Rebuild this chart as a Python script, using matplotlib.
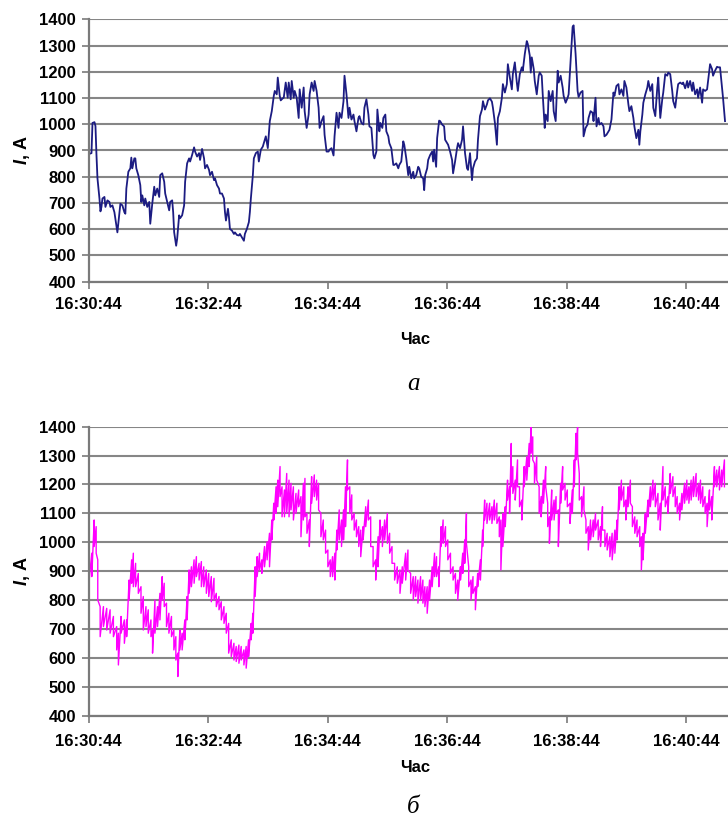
import matplotlib
matplotlib.use("Agg")
import matplotlib.pyplot as plt
from datetime import datetime, timedelta

plt.rcParams['font.family'] = ['Liberation Sans', 'DejaVu Sans']
plt.rcParams['mathtext.fontset'] = 'custom'
plt.rcParams['mathtext.it'] = 'Liberation Sans:bold:italic'
plt.rcParams['mathtext.rm'] = 'Liberation Sans:bold'

# ---- data (seconds after 16:30:44, current in A) ----
start_clock = "16:30:44"
tick_seconds = [0, 120, 240, 360, 480, 600]
y_ticks = [400, 500, 600, 700, 800, 900, 1000, 1100, 1200, 1300, 1400]

# (a) measured current
top_t = [0, 3, 4, 6, 7, 8, 9, 11, 12, 13,
         14, 16, 17, 19, 21, 22, 24, 26, 27, 29,
         31, 32, 34, 36, 37, 38, 40, 42, 43, 44,
         46, 47, 48, 50, 52, 53, 54, 56, 57, 59,
         61, 62, 64, 66, 67, 69, 71, 72, 74, 76,
         77, 79, 81, 82, 84, 85, 86, 88, 89, 91,
         92, 94, 96, 97, 99, 101, 102, 104, 106, 107,
         109, 111, 112, 114, 116, 117, 119, 121, 122, 124,
         126, 127, 129, 131, 132, 134, 136, 137, 138, 140,
         141, 142, 144, 146, 147, 149, 151, 152, 154, 156,
         157, 159, 161, 162, 163, 165, 166, 168, 170, 171,
         173, 175, 176, 178, 180, 181, 182, 184, 186, 187,
         189, 190, 192, 193, 195, 196, 198, 200, 201, 203,
         204, 206, 207, 209, 211, 212, 214, 216, 217, 219,
         221, 222, 224, 226, 227, 229, 231, 232, 234, 236,
         237, 239, 241, 242, 244, 246, 247, 249, 251, 252,
         254, 256, 257, 259, 261, 262, 264, 266, 267, 269,
         271, 272, 274, 276, 277, 279, 281, 282, 284, 286,
         287, 289, 290, 292, 293, 295, 296, 298, 299, 301,
         302, 304, 306, 307, 309, 311, 312, 314,
         316, 317, 319, 321, 322, 324, 326, 327, 329, 331,
         332, 334, 336, 337, 338, 340, 341, 343, 345, 346,
         347, 349, 350, 352, 353, 355, 357, 358, 360, 361,
         363, 365, 366, 368, 370, 371, 373, 375, 376, 378,
         380, 381, 383, 385, 386, 388, 390, 391, 393, 395,
         396, 398, 400, 401, 403, 405, 406, 408, 410, 411,
         413, 415, 416, 418, 420, 421, 423, 425, 426, 428,
         430, 431, 433, 435, 436, 438, 440, 441, 443, 444,
         445, 447, 448, 450, 452, 453, 455, 456, 458, 459,
         461, 462, 464, 466, 467, 469, 471, 472, 474, 476,
         477, 479, 481, 482, 484, 486, 487, 489, 491, 492,
         494, 496, 497, 499, 501, 502, 504, 506, 507, 509,
         510, 512, 513, 515, 517, 518, 520, 522, 523, 525,
         527, 528, 530, 532, 533, 535, 537, 538, 540, 542,
         543, 545, 547, 548, 550, 552, 553, 554, 556, 557,
         559, 561, 562, 564, 566, 567, 569, 571, 572, 574,
         576, 577, 579, 581, 582, 584, 586, 587, 589, 591,
         592, 594, 596, 597, 599, 601, 602, 604, 606, 607,
         609, 611, 612, 614, 616, 617, 619, 621, 622, 624,
         626, 627, 629, 631, 632, 634, 636, 637, 639]
top_i = [886, 890, 1005, 1008, 993, 883, 794, 717, 668, 685,
         717, 723, 685, 710, 704, 685, 691, 665, 640, 588,
         659, 697, 691, 665, 659, 755, 819, 832, 873, 832,
         870, 870, 832, 806, 768, 704, 729, 691, 717, 685,
         704, 621, 697, 762, 729, 755, 723, 806, 813, 781,
         736, 704, 672, 704, 710, 665, 588, 537, 563, 653,
         642, 653, 691, 781, 851, 870, 858, 883, 912, 896,
         877, 890, 864, 906, 870, 832, 845, 826, 806, 819,
         787, 794, 768, 755, 736, 736, 717, 665, 633, 678,
         646, 601, 595, 582, 588, 578, 576, 582, 569, 556,
         582, 601, 627, 665, 717, 806, 870, 890, 896, 858,
         903, 915, 928, 954, 909, 960, 1012, 1050, 1108, 1127,
         1114, 1178, 1108, 1091, 1099, 1101, 1159, 1101, 1159, 1095,
         1165, 1101, 1127, 1101, 1024, 1133, 1063, 1140, 1050, 986,
         1037, 1114, 1159, 1127, 1165, 1127, 1063, 986, 1012, 1031,
         960, 896, 896, 903, 909, 881, 954, 1044, 986, 1044,
         1024, 1088, 1185, 1114, 1024, 1063, 1018, 1037, 1012, 973,
         1024, 1031, 1005, 999, 1063, 1095, 1037, 992, 986, 883,
         870, 896, 1056, 973, 1005, 986, 1024, 1037, 973, 954,
         928, 909, 845, 845, 851, 832, 845, 858,
         935, 922, 870, 806, 838, 794, 819, 794, 806, 838,
         832, 800, 794, 749, 806, 832, 864, 883, 896, 858,
         903, 838, 947, 1014, 1012, 999, 992, 941, 928, 922,
         896, 864, 813, 858, 909, 928, 909, 941, 992, 890,
         832, 826, 890, 787, 832, 858, 870, 941, 1031, 1056,
         1088, 1056, 1076, 1091, 1099, 1086, 1063, 1005, 922, 1024,
         1050, 1101, 1153, 1121, 1153, 1229, 1178, 1133, 1191, 1236,
         1159, 1127, 1191, 1217, 1204, 1268, 1317, 1306, 1262, 1197,
         1255, 1210, 1165, 1114, 1185, 1197, 1185, 1114, 986, 1037,
         1012, 1127, 1088, 1127, 1050, 1012, 1204, 1159, 1185, 1140,
         1108, 1082, 1101, 1114, 1242, 1371, 1377, 1268, 1127, 1104,
         1121, 1127, 954, 986, 999, 1024, 1050, 1044, 1012, 1101,
         992, 1024, 999, 1005, 992, 954, 960, 973, 979, 1018,
         1121, 1108, 1146, 1153, 1114, 1133, 1108, 1165, 1140, 1076,
         1050, 1069, 1024, 992, 947, 979, 922, 973, 1037, 1082,
         1114, 1140, 1165, 1127, 1153, 1063, 1031, 1140, 1178, 1024,
         1095, 1121, 1191, 1185, 1197, 1191, 1127, 1088, 1063, 1127,
         1153, 1159, 1153, 1159, 1137, 1165, 1140, 1165, 1127, 1159,
         1114, 1133, 1101, 1140, 1082, 1133, 1127, 1133, 1165, 1229,
         1210, 1185, 1204, 1219, 1217, 1217, 1140, 1101, 1012]

# (b) noisy current: upper and lower edge of the jitter band
bot_t = [0, 3.3, 5.7, 7.7, 9.3, 11.7, 15, 18.3, 21.7, 25,
         28.3, 30, 32.7, 36, 38.3, 40.7, 43.3, 45, 47.3, 50,
         52.7, 55, 57.7, 60, 62.7, 64.3, 66.7, 69.3, 71.7, 74,
         76, 78.3, 80.7, 83.3, 85.7, 87.7, 89.7, 91.7, 94, 96.7,
         99, 101, 103.3, 106, 108.3, 111, 113.3, 115.7, 118.3, 120.7,
         123.3, 126, 128.3, 131, 133.3, 136, 138.3, 140.7, 143.3, 146,
         148.3, 151, 153.3, 156, 158.3, 160.7, 163.3, 165, 167.3, 169.3,
         171.7, 174, 176.7, 179.3, 181.7, 184, 186, 188.3, 190, 192.3,
         194.3, 196.7, 199, 201.3, 203.3, 205.7, 208.3, 211, 213.3, 215.7,
         217.3, 219.3, 221.7, 224, 226.7, 229, 231, 233.3, 235.7, 238,
         240.3, 242.7, 245, 247.3, 249.3, 251.7, 254, 256, 258, 260,
         262.3, 264.3, 266.7, 269, 271.3, 273.3, 275.7, 278.3, 281, 283.3,
         285.7, 288.3, 290.7, 292.7, 295, 297.3, 300, 302.3, 304.7, 307.3,
         310, 312.7, 315,
         318.4, 320.7, 323.4, 326, 328.4, 330.7, 333.4, 335.7, 337.7, 340,
         342.4, 345, 347.4, 349.4, 351.7, 354, 356, 358.4, 360.7, 363.4,
         366, 368.4, 370.7, 373.4, 375.7, 377.7, 379.4, 381.7, 384, 386,
         388.4, 390.7, 393.4, 395.7, 397.7, 400, 402.7, 405, 407.4, 410,
         412.4, 414, 416, 418.4, 420.7, 422.7, 424.4, 426, 428.4, 430.7,
         432.7, 435, 437.4, 440, 442.4, 444.4, 446, 447.7, 450, 452.4,
         454.4, 456.7, 459, 461, 462.7, 465, 467.4, 469.4, 471.7, 474,
         476, 478.4, 480.7, 483.4, 485.7, 487.7, 489.4, 491, 492.7, 495,
         497.4, 499.4, 501.7, 504, 506.7, 509, 511.7, 514, 516, 518.4,
         520.7, 523.4, 525.7, 528.4, 530.7, 532.7, 535, 537.4, 539.4, 541.7,
         544, 546, 548.4, 550.7, 553.4, 555, 556.7, 559, 561.7, 564,
         566.7, 569, 571.7, 574, 576.7, 579, 581.7, 584, 586.7, 589,
         591, 593.4, 595.7, 598.4, 600.7, 602.7, 605, 607.4, 610, 612.4,
         614.4, 616.7, 619, 621, 623.4, 625.7, 628.4, 630.7, 633.4, 635.7,
         638.4]
bot_hi = [927, 962, 1077, 1054, 939, 777, 777, 771, 766, 743,
          708, 685, 743, 731, 731, 869, 939, 962, 927, 892,
          846, 812, 777, 766, 731, 696, 800, 777, 823, 881,
          858, 789, 754, 743, 696, 673, 616, 696, 685, 731,
          812, 904, 915, 939, 950, 927, 933, 915, 904, 892,
          881, 875, 823, 812, 794, 777, 754, 719, 662, 650,
          639, 644, 639, 627, 639, 662, 719, 754, 915, 950,
          962, 939, 985, 1002, 1031, 1077, 1135, 1192, 1215, 1262,
          1192, 1181, 1238, 1215, 1204, 1192, 1169, 1181, 1158, 1204,
          1221, 1100, 1077, 1227, 1233, 1215, 1204, 1100, 1077, 1042,
          973, 939, 950, 962, 1042, 1112, 1077, 1112, 1192, 1285,
          1192, 1164, 1100, 1077, 1054, 1042, 1054, 1123, 1146, 1088,
          985, 939, 1019, 1077, 1054, 1077, 1100, 1031, 985, 927,
          915, 904, 915,
          962, 973, 892, 881, 881, 869, 881, 869, 846, 846,
          869, 915, 962, 950, 915, 1054, 1077, 1054, 1008, 962,
          915, 892, 869, 915, 962, 1008, 1100, 915, 869, 881,
          846, 892, 939, 1042, 1146, 1135, 1135, 1123, 1146, 1135,
          1088, 1077, 1100, 1123, 1215, 1192, 1342, 1262, 1215, 1285,
          1192, 1146, 1262, 1296, 1342, 1400, 1365, 1273, 1296, 1192,
          1158, 1215, 1262, 1135, 1088, 1181, 1146, 1158, 1112, 1204,
          1262, 1204, 1181, 1135, 1181, 1285, 1377, 1400, 1238, 1158,
          1192, 1077, 1054, 1077, 1077, 1100, 1077, 1054, 1123, 1042,
          1031, 1019, 1031, 1042, 1077, 1192, 1215, 1192, 1146, 1192,
          1215, 1123, 1088, 1077, 1054, 1019, 1031, 1100, 1146, 1192,
          1215, 1204, 1169, 1135, 1262, 1192, 1158, 1238, 1227, 1192,
          1158, 1135, 1169, 1204, 1215, 1192, 1215, 1227, 1238, 1204,
          1215, 1192, 1158, 1135, 1181, 1158, 1262, 1250, 1262, 1250,
          1285]
bot_lo = [846, 881, 985, 962, 800, 673, 708, 696, 685, 673,
          627, 575, 685, 650, 673, 800, 858, 846, 846, 823,
          754, 696, 708, 685, 673, 616, 685, 708, 731, 800,
          777, 708, 685, 673, 627, 592, 535, 627, 627, 662,
          731, 823, 846, 858, 881, 869, 846, 846, 823, 812,
          794, 800, 777, 766, 731, 719, 685, 616, 604, 592,
          587, 581, 592, 575, 564, 604, 662, 685, 812, 881,
          904, 892, 915, 939, 915, 1008, 1077, 1100, 1123, 1158,
          1088, 1088, 1100, 1088, 1112, 1077, 1100, 1123, 1019, 1077,
          1088, 1031, 985, 1135, 1158, 1146, 1112, 1019, 1008, 962,
          915, 881, 881, 869, 973, 1008, 985, 1008, 1054, 1181,
          1100, 1077, 1042, 1019, 985, 950, 1008, 1054, 1077, 985,
          915, 869, 915, 1008, 985, 1008, 996, 962, 927, 869,
          858, 823, 858,
          869, 904, 823, 800, 812, 789, 800, 789, 777, 754,
          800, 846, 881, 881, 846, 985, 996, 985, 939, 892,
          869, 823, 800, 869, 892, 927, 996, 846, 800, 823,
          766, 846, 869, 985, 1077, 1065, 1077, 1065, 1077, 1065,
          1019, 904, 985, 1054, 1146, 1100, 1192, 1169, 1146, 1192,
          1123, 1077, 1192, 1215, 1262, 1308, 1285, 1204, 1215, 1100,
          1088, 1135, 1192, 1054, 996, 1077, 1077, 1100, 985, 1135,
          1181, 1146, 1123, 1065, 1100, 1192, 1285, 1308, 1146, 1088,
          1112, 1031, 973, 1008, 1019, 1042, 1008, 985, 1042, 985,
          973, 950, 939, 962, 1008, 1112, 1146, 1123, 1077, 1123,
          1135, 1054, 1031, 1019, 985, 904, 939, 1031, 1088, 1123,
          1146, 1123, 1077, 1042, 1146, 1123, 1100, 1169, 1158, 1123,
          1100, 1077, 1112, 1135, 1146, 1135, 1146, 1158, 1158, 1146,
          1135, 1123, 1100, 1054, 1112, 1077, 1192, 1192, 1181, 1192,
          1192]

# jitter band drawn as a zig-zag through the read upper/lower edges
band_t = []
band_i = []
for t, hi, lo in zip(bot_t, bot_hi, bot_lo):
    band_t += [t, t]
    band_i += [hi, lo]

base = datetime.strptime(start_clock, "%H:%M:%S")
tick_labels = [(base + timedelta(seconds=s)).strftime("%H:%M:%S") for s in tick_seconds]

W, H = 728, 821
fig = plt.figure(figsize=(W / 100, H / 100), dpi=100)

grid_c = '#868686'
axis_c = '#7a7a7a'


def style_axes(ax, xpad):
    ax.set_xlim(0, 642)
    ax.set_ylim(400, 1400)
    ax.set_yticks(y_ticks)
    ax.set_yticklabels([str(v) for v in y_ticks])
    ax.set_xticks(tick_seconds)
    ax.set_xticklabels(tick_labels)
    for s in ['top', 'right']:
        ax.spines[s].set_visible(False)
    for s in ['left', 'bottom']:
        ax.spines[s].set_color(axis_c)
        ax.spines[s].set_linewidth(1.6)
    ax.yaxis.grid(True, color=grid_c, linewidth=1.5)
    ax.set_axisbelow(True)
    ax.tick_params(axis='y', direction='out', length=5, width=1.2, color=axis_c,
                   pad=4, labelsize=12)
    ax.tick_params(axis='x', direction='out', length=5, width=1.2, color=axis_c,
                   pad=xpad, labelsize=12)
    for lab in ax.get_xticklabels() + ax.get_yticklabels():
        lab.set_fontweight('bold')


left = 88.5 / W
ax1 = fig.add_axes([left, 1 - 281.7 / H, 1 - left, (281.7 - 19.3) / H])
ax1.plot(top_t, top_i, color='#1c1c82', linewidth=1.3)
style_axes(ax1, 6)

ax2 = fig.add_axes([left, 1 - 715.5 / H, 1 - left, (715.5 - 426.7) / H])
ax2.plot(band_t, band_i, color='#ff00ff', linewidth=1.0)
style_axes(ax2, 8)

for ax, yc in [(ax1, 150), (ax2, 571)]:
    fig.text(22 / W, 1 - yc / H, r'$I$, A', rotation=90, ha='center', va='center',
             fontsize=13, fontweight='bold')

fig.text(415 / W, 1 - 340 / H, 'Час', ha='center', va='center', fontsize=12, fontweight='bold')
fig.text(415 / W, 1 - 767 / H, 'Час', ha='center', va='center', fontsize=12, fontweight='bold')
fig.text(413 / W, 1 - 384 / H, 'а', ha='center', va='center', fontsize=18,
         family=['Liberation Serif', 'DejaVu Serif'], style='italic')
fig.text(413 / W, 1 - 807 / H, 'б', ha='center', va='center', fontsize=18,
         family=['Liberation Serif', 'DejaVu Serif'], style='italic')

fig.savefig('out.png', dpi=100)
